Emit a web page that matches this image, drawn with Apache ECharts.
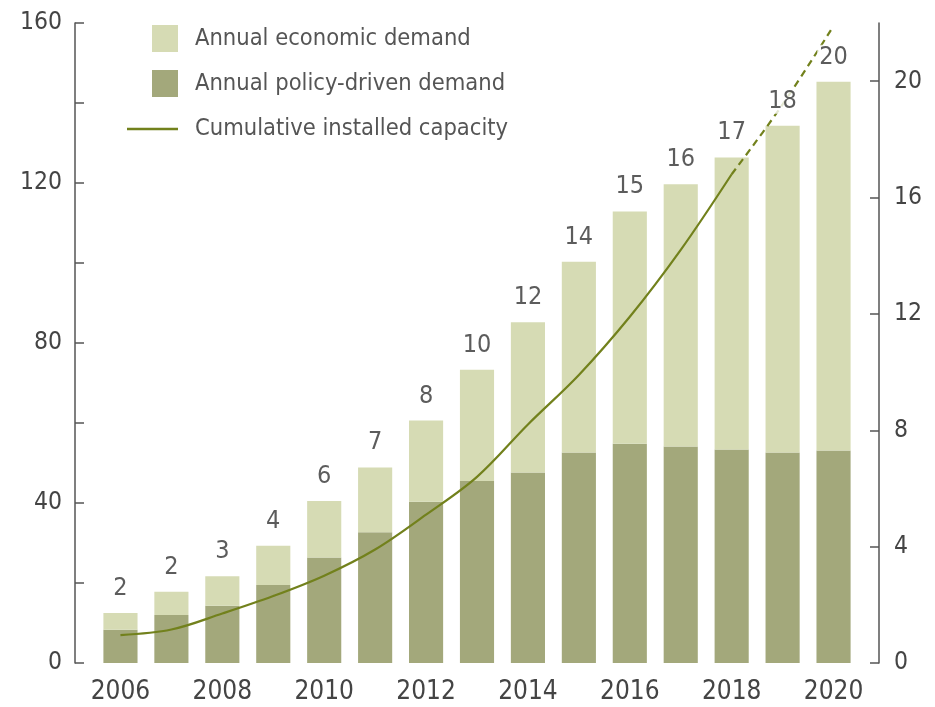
<!DOCTYPE html>
<html>
<head>
<meta charset="utf-8">
<style>
  html, body { margin: 0; padding: 0; background: #fff; }
  #chart { width: 935px; height: 707px; }
</style>
<script src="https://cdn.jsdelivr.net/npm/echarts@6/dist/echarts.min.js"></script>
</head>
<body>
<div id="chart"></div>
<script>
// Years on the category axis
const years = ['2006','2007','2008','2009','2010','2011','2012','2013','2014','2015','2016','2017','2018','2019','2020'];
// Annual policy-driven demand (left axis)
const policyDemand = [8.3, 12.0, 14.3, 19.5, 26.4, 32.7, 40.3, 45.5, 47.6, 52.6, 54.8, 54.1, 53.4, 52.6, 53.1];
// Annual economic demand, stacked on top (left axis)
const economicDemand = [4.2, 5.8, 7.4, 9.8, 14.1, 16.2, 20.3, 27.8, 37.6, 47.7, 58.1, 65.6, 73.0, 81.7, 92.2];
// Cumulative installed capacity (right axis)
const cumulativeCapacity = [0.96, 1.15, 1.7, 2.3, 3.0, 3.9, 5.1, 6.4, 8.2, 9.9, 11.9, 14.2, 16.8, 19.2, 21.9];
// Figures printed above each bar
const barTopLabels = ['2','2','3','4','6','7','8','10','12','14','15','16','17','18','20'];
// Index from which the capacity line is drawn dashed (projection)
const dashedFrom = 12;

const FONT = '"DejaVu Sans Condensed", "Liberation Sans Narrow", sans-serif';
const LIGHT = '#d6dbb4';
const DARK = '#a3a87b';
const LINE = '#72811c';

const totals = years.map((_, i) => policyDemand[i] + economicDemand[i]);
const solidPart = cumulativeCapacity.map((v, i) => (i <= dashedFrom ? v : null));
const dashedPart = cumulativeCapacity.map((v, i) => (i >= dashedFrom ? v : null));

const chart = echarts.init(document.getElementById('chart'), null, { renderer: 'canvas' });

const legendText = { fontFamily: FONT, fontSize: 23.5, color: '#555', padding: [0, 0, 0, 12] };
const legendBase = { padding: 0, selectedMode: false, textStyle: legendText };

chart.setOption({
  animation: false,
  backgroundColor: '#fff',
  grid: { left: 95, right: 76, top: 23, bottom: 44, containLabel: false },
  legend: [
    Object.assign({ data: [{ name: 'Annual economic demand', icon: 'rect' }],
      left: 152, top: 25, itemWidth: 26, itemHeight: 27 }, legendBase),
    Object.assign({ data: [{ name: 'Annual policy-driven demand', icon: 'rect' }],
      left: 152, top: 70, itemWidth: 26, itemHeight: 27 }, legendBase),
    Object.assign({ data: [{ name: 'Cumulative installed capacity', icon: 'rect' }],
      left: 127, top: 117, itemWidth: 51, itemHeight: 2.5 }, legendBase)
  ],
  xAxis: {
    type: 'category',
    data: years,
    axisLine: { show: false },
    axisTick: { show: false },
    axisLabel: { interval: 1, margin: 16, fontFamily: FONT, fontSize: 26, color: '#444' }
  },
  yAxis: [
    {
      type: 'value', min: 0, max: 160, interval: 20, offset: 20,
      splitLine: { show: false },
      axisLine: { show: true, lineStyle: { color: '#555', width: 1.5 } },
      axisTick: { show: true, inside: true, length: 9, lineStyle: { color: '#555', width: 1.5 } },
      axisLabel: {
        margin: 13, fontFamily: FONT, fontSize: 24.5, color: '#444',
        formatter: v => (v % 40 === 0 ? String(v) : '')
      }
    },
    {
      type: 'value', min: 0, max: 22, interval: 4, offset: 20, position: 'right',
      splitLine: { show: false },
      axisLine: { show: true, lineStyle: { color: '#555', width: 1.5 } },
      axisTick: { show: true, inside: true, length: 9, lineStyle: { color: '#555', width: 1.5 } },
      axisLabel: { margin: 15, showMaxLabel: false, fontFamily: FONT, fontSize: 24.5, color: '#444' }
    }
  ],
  series: [
    {
      name: 'Annual policy-driven demand', type: 'bar', stack: 'demand',
      data: policyDemand, barCategoryGap: '33%',
      itemStyle: { color: DARK }, z: 2
    },
    {
      name: 'Annual economic demand', type: 'bar', stack: 'demand',
      data: economicDemand, barCategoryGap: '33%',
      itemStyle: { color: LIGHT }, z: 2
    },
    {
      name: 'Cumulative installed capacity', type: 'line', yAxisIndex: 1,
      data: solidPart, smooth: 0.35, symbol: 'none', connectNulls: false,
      lineStyle: { color: LINE, width: 2.2 }, itemStyle: { color: LINE }, z: 3
    },
    {
      name: 'Cumulative installed capacity (projected)', type: 'line', yAxisIndex: 1,
      data: dashedPart, smooth: 0.35, symbol: 'none', connectNulls: false,
      lineStyle: { color: LINE, width: 2.2, type: [7, 5] }, itemStyle: { color: LINE }, z: 3
    },
    {
      // Figures above the stacked bars, kept on top of the line
      name: 'labels', type: 'scatter', data: totals, symbolSize: 0, z: 10, silent: true,
      label: {
        show: true, position: 'top', distance: 12,
        formatter: p => barTopLabels[p.dataIndex],
        fontFamily: FONT, fontSize: 25, color: '#333',
        backgroundColor: '#fff', padding: [0, 2, 0, 2]
      }
    }
  ]
});
</script>
</body>
</html>
